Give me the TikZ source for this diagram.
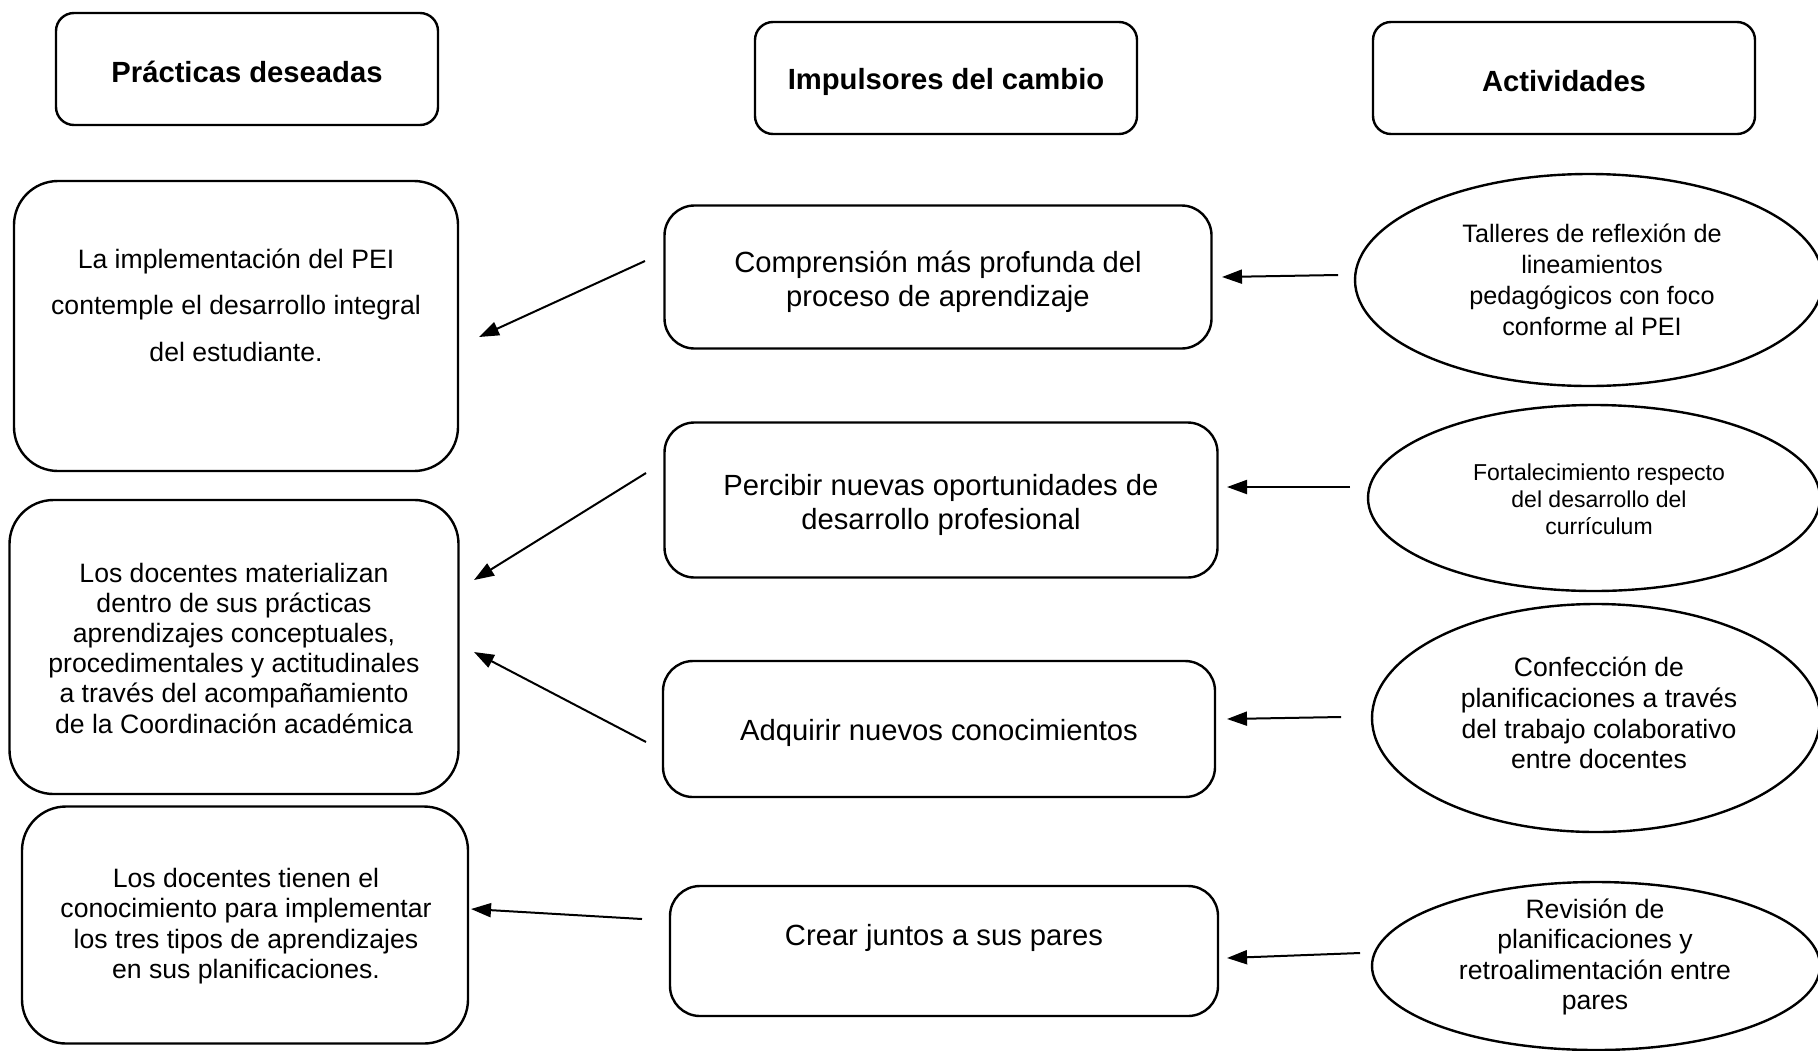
\documentclass[tikz,border=0pt]{standalone}
\usepackage{fontspec}
\setmainfont{Liberation Sans}
\usetikzlibrary{shapes.geometric,arrows.meta}
\begin{document}
\begin{tikzpicture}[x=0.5pt,y=-0.5pt,
  hdr/.style={draw,line width=1.2pt,rounded corners=9pt,minimum width=191pt,minimum height=56pt,inner sep=0pt},
  hdrt/.style={inner sep=0pt,font=\fontsize{14.6}{17}\selectfont\bfseries},
  lbox/.style={draw,line width=1.2pt,rounded corners=22pt,inner sep=0pt},
  mbox/.style={draw,line width=1.2pt,rounded corners=15pt,inner sep=0pt},
  mtxt/.style={align=center,inner sep=0pt,font=\fontsize{14.6}{16.8}\selectfont},
  ell/.style={draw,line width=1.2pt,ellipse,inner sep=0pt},
  txt/.style={align=center,inner sep=0pt},
  arr/.style={line width=1pt,-{Triangle[length=10pt,width=7pt]}}]
\useasboundingbox (0,0) rectangle (1818,1050);
\clip (0,0) rectangle (1818,1050);
% headers
\node[hdr] (h1) at (247,69) {};
\node[hdrt] (h1t) at (247,72) {Prácticas deseadas};
\node[hdr] (h2) at (946,78) {};
\node[hdrt] (h2t) at (946,82) {Impulsores del cambio};
\node[hdr] (h3) at (1564,78) {};
\node[hdrt] (h3t) at (1564,81) {Actividades};
% left boxes
\node[lbox,minimum width=222pt,minimum height=145pt] (L1) at (236,326) {};
\node[txt,font=\fontsize{13.3}{23.2}\selectfont] (L1t) at (236,305) {La implementación del PEI\\contemple el desarrollo integral\\del estudiante.};
\node[lbox,minimum width=224.5pt,minimum height=147pt] (L2) at (234,647) {};
\node[txt,font=\fontsize{13.3}{15.1}\selectfont] (L2t) at (234,648) {Los docentes materializan\\dentro de sus prácticas\\aprendizajes conceptuales,\\procedimentales y actitudinales\\a través del acompañamiento\\de la Coordinación académica};
\node[lbox,minimum width=223pt,minimum height=118.5pt] (L3) at (245,925) {};
\node[txt,font=\fontsize{13.3}{15.25}\selectfont] (L3t) at (246,926) {Los docentes tienen el\\conocimiento para implementar\\los tres tipos de aprendizajes\\en sus planificaciones.};
% middle boxes
\node[mbox,minimum width=273.5pt,minimum height=71.5pt] (M1) at (938,277) {};
\node[mtxt] (M1t) at (938,282) {Comprensión más profunda del\\proceso de aprendizaje};
\node[mbox,minimum width=276.5pt,minimum height=77.5pt] (M2) at (941,500) {};
\node[mtxt] (M2t) at (941,505) {Percibir nuevas oportunidades de\\desarrollo profesional};
\node[mbox,minimum width=276pt,minimum height=68pt] (M3) at (939,729) {};
\node[mtxt] (M3t) at (939,733) {Adquirir nuevos conocimientos};
\node[mbox,minimum width=274pt,minimum height=65pt] (M4) at (944,951) {};
\node[mtxt] (M4t) at (944,938) {Crear juntos a sus pares};
% ellipses
\node[ell,minimum width=234pt,minimum height=106pt] (E1) at (1589,280) {};
\node[txt,font=\fontsize{12.6}{15.4}\selectfont] (E1t) at (1592,280) {Talleres de reflexión de\\lineamientos\\pedagógicos con foco\\conforme al PEI};
\node[ell,minimum width=226pt,minimum height=93pt] (E2) at (1594,498) {};
\node[txt,font=\fontsize{11.5}{13.6}\selectfont] (E2t) at (1599,499) {Fortalecimiento respecto\\del desarrollo del\\currículum};
\node[ell,minimum width=224pt,minimum height=114pt] (E3) at (1596,718) {};
\node[txt,font=\fontsize{13.3}{15.4}\selectfont] (E3t) at (1599,713) {Confección de\\planificaciones a través\\del trabajo colaborativo\\entre docentes};
\node[ell,minimum width=224pt,minimum height=84pt] (E4) at (1596,966) {};
\node[txt,font=\fontsize{13.3}{15.25}\selectfont] (E4t) at (1595,957) {Revisión de\\planificaciones y\\retroalimentación entre\\pares};
% arrow end points
\coordinate (a1s) at (645,261); \coordinate (a1e) at (479,337);
\coordinate (a2s) at (646,473); \coordinate (a2e) at (474,580);
\coordinate (a3s) at (646,742); \coordinate (a3e) at (474,652);
\coordinate (a4s) at (642,919); \coordinate (a4e) at (471,909);
\coordinate (b1s) at (1338,275); \coordinate (b1e) at (1222,277);
\coordinate (b2s) at (1350,487); \coordinate (b2e) at (1227,487);
\coordinate (b3s) at (1341,717); \coordinate (b3e) at (1227,719);
\coordinate (b4s) at (1360,953); \coordinate (b4e) at (1227,958);
\draw[arr] (a1s) -- (a1e);
\draw[arr] (a2s) -- (a2e);
\draw[arr] (a3s) -- (a3e);
\draw[arr] (a4s) -- (a4e);
\draw[arr] (b1s) -- (b1e);
\draw[arr] (b2s) -- (b2e);
\draw[arr] (b3s) -- (b3e);
\draw[arr] (b4s) -- (b4e);
\end{tikzpicture}
\end{document}
